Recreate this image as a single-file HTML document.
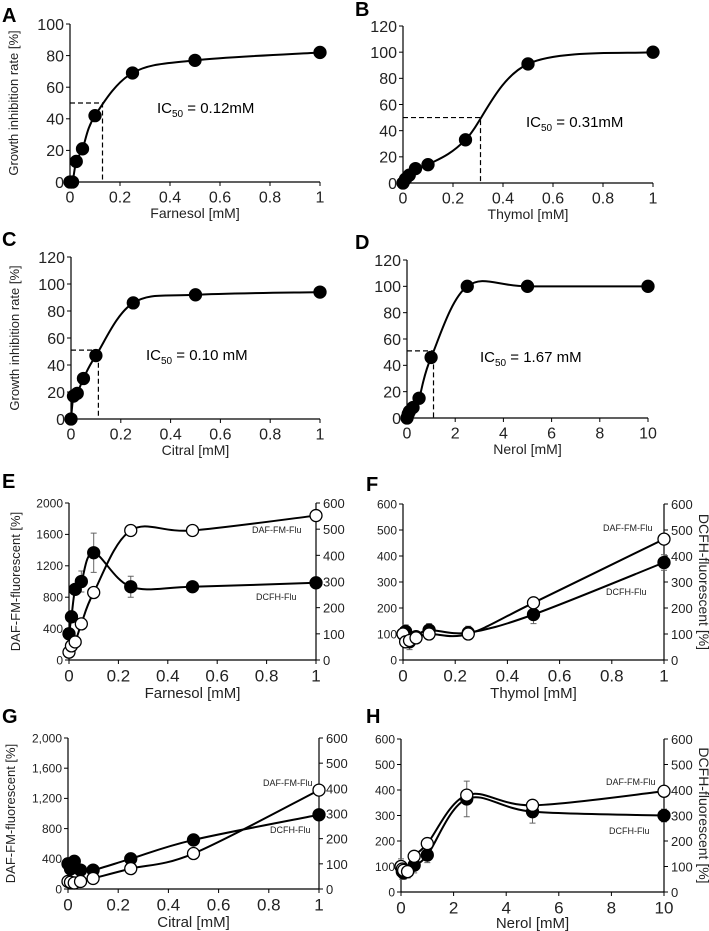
<!DOCTYPE html>
<html><head><meta charset="utf-8"><style>
body{margin:0;background:#fff}
svg{display:block;font-family:"Liberation Sans",Arial,sans-serif}
</style></head><body>
<svg id="fig" width="709" height="931" viewBox="0 0 709 931"></svg>
<script>
// Panel A-D data (growth inhibition)
const xA=[0,0.01,0.025,0.05,0.1,0.25,0.5,1];
const yA=[0,0,13,21,42,69,77,82];
const xB=[0,0.01,0.025,0.05,0.1,0.25,0.5,1];
const yB=[0,3,6,11,14,33,91,100];
const xC=[0,0.01,0.025,0.05,0.1,0.25,0.5,1];
const yC=[0,17,19,30,47,86,92,94];
const xD=[0,0.05,0.1,0.25,0.5,1,2.5,5,10];
const yD=[0,3,5,8,15,46,100,100,100];
const icA=[0.13,50],icB=[0.31,50],icC=[0.11,51],icD=[1.1,51];
// Panel E-H data (fluorescence)
const xE=[0,0.01,0.025,0.05,0.1,0.25,0.5,1];
const dafE=[100,180,230,460,860,1650,1650,1840];
const dcfE=[100,165,270,300,410,280,280,295];
const dcfErrE=[10,15,10,40,75,40,20,0];
const xF=[0,0.01,0.025,0.05,0.1,0.25,0.5,1];
const dafF=[100,70,75,85,100,100,220,465];
const dcfF=[100,110,70,90,115,105,175,375];
const dcfErrF=[25,25,30,20,25,25,35,30];
const xG=[0,0.01,0.025,0.05,0.1,0.25,0.5,1];
const dafG=[100,90,80,100,140,270,470,1310];
const dcfG=[100,80,110,75,75,120,195,295];
const dcfErrG=[10,10,10,10,10,10,15,0];
const xH=[0,0.05,0.1,0.25,0.5,1,2.5,5,10];
const dafH=[100,90,85,80,140,190,380,340,395];
const dcfH=[100,80,75,80,105,145,365,315,300];
const dcfErrH=[30,30,25,25,30,30,70,45,25];
const ticks01=["0","0.2","0.4","0.6","0.8","1"];
const ticks10=["0","2","4","6","8","10"];

const NS="http://www.w3.org/2000/svg";
const svg=document.getElementById('fig');
function el(tag,attrs,parent,txt){const e=document.createElementNS(NS,tag);for(const k in attrs)e.setAttribute(k,attrs[k]);if(txt!==undefined)e.textContent=txt;(parent||svg).appendChild(e);return e;}
function spline(pts){let d="M"+pts[0][0]+","+pts[0][1];for(let i=0;i<pts.length-1;i++){const p0=pts[Math.max(0,i-1)],p1=pts[i],p2=pts[i+1],p3=pts[Math.min(pts.length-1,i+2)];const c1=[p1[0]+(p2[0]-p0[0])/6,p1[1]+(p2[1]-p0[1])/6];const c2=[p2[0]-(p3[0]-p1[0])/6,p2[1]-(p3[1]-p1[1])/6];d+=" C"+c1+" "+c2+" "+p2;}return d;}

function axes(g,c){
  const la=el('line',{x1:c.x0,y1:c.y0,x2:c.x0,y2:c.yt,stroke:'#000','stroke-width':1.2},g);
  
  const xa=el('line',{x1:c.x0,y1:c.y0,x2:c.x1,y2:c.y0,stroke:'#000','stroke-width':1.2},g);
  
  const yfs=c.yfs||16, xfs=c.xfs||16;
  c.yLabels.forEach((t,i)=>{const y=c.y0-(c.y0-c.yt)*i/(c.yLabels.length-1);
    el('line',{x1:c.x0-4,y1:y,x2:c.x0,y2:y,stroke:'#000'},g);
    const tx=el('text',{x:c.x0-6,y:y+yfs*0.36,'text-anchor':'end','font-size':yfs,fill:'#222'},g,t);
    });
  c.xLabels.forEach((t,i)=>{const x=c.x0+(c.x1-c.x0)*i/(c.xLabels.length-1);
    el('line',{x1:x,y1:c.y0,x2:x,y2:c.y0+4,stroke:'#000'},g);
    const tx=el('text',{x:x,y:c.y0+6+xfs*0.9,'text-anchor':'middle','font-size':xfs,fill:'#222'},g,t);
    });
  if(c.rLabels){el('line',{x1:c.x1,y1:c.y0,x2:c.x1,y2:c.yt,stroke:'#000','stroke-width':1.2},g);
    c.rLabels.forEach((t,i)=>{const y=c.y0-(c.y0-c.yt)*i/(c.rLabels.length-1);
      el('line',{x1:c.x1,y1:y,x2:c.x1+4,y2:y,stroke:'#000'},g);
      const tx=el('text',{x:c.x1+7,y:y+5,'font-size':13,fill:'#222'},g,t);
      });}
  const xt=el('text',{x:(c.x0+c.x1)/2,y:c.y0+(c.xtOff||36),'text-anchor':'middle','font-size':c.xtfs||14,fill:'#222'},g,c.xTitle);
  
  if(c.yTitle){const yy=(c.y0+c.yt)/2;const t=el('text',{x:0,y:0,transform:`translate(${c.x0-c.yTitleOff},${yy}) rotate(-90)`,'text-anchor':'middle','font-size':13,fill:'#222'},g,c.yTitle);
    }
  if(c.rTitle){const yy=(c.y0+c.yt)/2;const t=el('text',{x:0,y:0,transform:`translate(${c.x1+35},${yy}) rotate(90)`,'text-anchor':'middle','font-size':14,fill:'#222'},g,c.rTitle);
    }
  const L=el('text',{x:c.lx,y:c.ly,'font-size':20,'font-weight':'bold',fill:'#000'},g,c.letter);
  
}
function series(g,xs,ys,sx,sy,filled,errs,name){
  const pts=xs.map((x,i)=>[sx(x),sy(ys[i])]);
  if(errs){xs.forEach((x,i)=>{if(!errs[i])return;const px=sx(x),a=sy(ys[i]+errs[i]),b=sy(ys[i]-errs[i]);
    el('path',{d:`M${px},${a}V${b}M${px-3},${a}H${px+3}M${px-3},${b}H${px+3}`,stroke:'#666','stroke-width':1,fill:'none'},g);});}
  const p=el('path',{d:spline(pts),fill:'none',stroke:'#000','stroke-width':2},g);
  
  pts.forEach(q=>{const c=el('circle',{cx:q[0],cy:q[1],r:6,fill:filled?'#000':'#fff',stroke:'#000','stroke-width':1.3},g);
    });
}
function inhib(c,xs,ys,ic,icText,icx,icy){
  const g=el('g',{});
  axes(g,c);
  const sx=x=>c.x0+(c.x1-c.x0)*x/c.xmax, sy=y=>c.y0-(c.y0-c.yt)*y/c.ymax;
  el('path',{d:`M${c.x0},${sy(ic[1])}H${sx(ic[0])}V${c.y0}`,stroke:'#000','stroke-dasharray':'5,3',fill:'none','stroke-width':1.2},g);
  series(g,xs,ys,sx,sy,true,null,'inhibition');
  const t=el('text',{x:icx,y:icy,'font-size':15,fill:'#000'},g);
  el('tspan',{},t,'IC');el('tspan',{'font-size':10,dy:4},t,'50');el('tspan',{dy:-4},t,' = '+icText);
}
function fluo(c,xs,daf,dcf,errs,dafMax,dcfMax,dlx,dly,clx,cly){
  const g=el('g',{});
  axes(g,c);
  const sx=x=>c.x0+(c.x1-c.x0)*x/c.xmax;
  const sL=y=>c.y0-(c.y0-c.yt)*y/dafMax, sR=y=>c.y0-(c.y0-c.yt)*y/dcfMax;
  series(g,xs,dcf,sx,sR,true,errs,'dcfh');
  series(g,xs,daf,sx,sL,false,null,'daf-fm');
  const a=el('text',{x:dlx,y:dly,'font-size':9,fill:'#222'},g,'DAF-FM-Flu');
  const b=el('text',{x:clx,y:cly,'font-size':9,fill:'#222'},g,'DCFH-Flu');
}
const r100=["0","20","40","60","80","100"], r120=["0","20","40","60","80","100","120"];
const r600=["0","100","200","300","400","500","600"];
inhib({letter:'A',lx:2,ly:22,x0:70,x1:320,y0:182,yt:24,xmax:1,ymax:100,yLabels:r100,xLabels:ticks01,xTitle:'Farnesol [mM]',yTitle:'Growth inhibition rate [%]',yTitleOff:52},xA,yA,icA,'0.12mM',157,113);
inhib({letter:'B',lx:355,ly:16,x0:403,x1:653,y0:183,yt:26,xmax:1,ymax:120,yLabels:r120,xLabels:ticks01,xTitle:'Thymol [mM]'},xB,yB,icB,'0.31mM',526,127);
inhib({letter:'C',lx:2,ly:246,x0:71,x1:320,y0:419,yt:257,xmax:1,ymax:120,yLabels:r120,xLabels:ticks01,xTitle:'Citral [mM]',yTitle:'Growth inhibition rate [%]',yTitleOff:52},xC,yC,icC,'0.10 mM',146,360);
inhib({letter:'D',lx:355,ly:249,x0:407,x1:648,y0:418,yt:260,xmax:10,ymax:120,yLabels:r120,xLabels:ticks10,xTitle:'Nerol [mM]'},xD,yD,icD,'1.67 mM',480,362);
fluo({letter:'E',lx:2,ly:488,x0:69,x1:316,y0:660,yt:503,xmax:1,yLabels:["0","400","800","1200","1600","2000"],yfs:12,rLabels:r600,xLabels:ticks01,xfs:17,xtfs:15,xtOff:38,xTitle:'Farnesol [mM]',yTitle:'DAF-FM-fluorescent [%]',yTitleOff:49},xE,dafE,dcfE,dcfErrE,2000,600,252,533,256,600);
fluo({letter:'F',lx:366,ly:491,x0:403,x1:664,y0:660,yt:504,xmax:1,yLabels:r600,yfs:12,rLabels:r600,xLabels:ticks01,xfs:17,xtfs:15,xtOff:38,xTitle:'Thymol [mM]',rTitle:'DCFH-fluorescent [%]'},xF,dafF,dcfF,dcfErrF,600,600,603,531,606,595);
fluo({letter:'G',lx:2,ly:723,x0:68,x1:319,y0:889,yt:738,xmax:1,yLabels:["0","400","800","1,200","1,600","2,000"],yfs:12,rLabels:r600,xLabels:ticks01,xfs:17,xtfs:15,xtOff:38,xTitle:'Citral [mM]',yTitle:'DAF-FM-fluorescent [%]',yTitleOff:53},xG,dafG,dcfG,dcfErrG,2000,600,263,786,270,833);
fluo({letter:'H',lx:366,ly:723,x0:401,x1:664,y0:892,yt:739,xmax:10,yLabels:r600,yfs:12,rLabels:r600,xLabels:ticks10,xfs:17,xtfs:15,xtOff:36,xTitle:'Nerol [mM]',rTitle:'DCFH-fluorescent [%]'},xH,dafH,dcfH,dcfErrH,600,600,606,785,609,834);
</script>
</body></html>
